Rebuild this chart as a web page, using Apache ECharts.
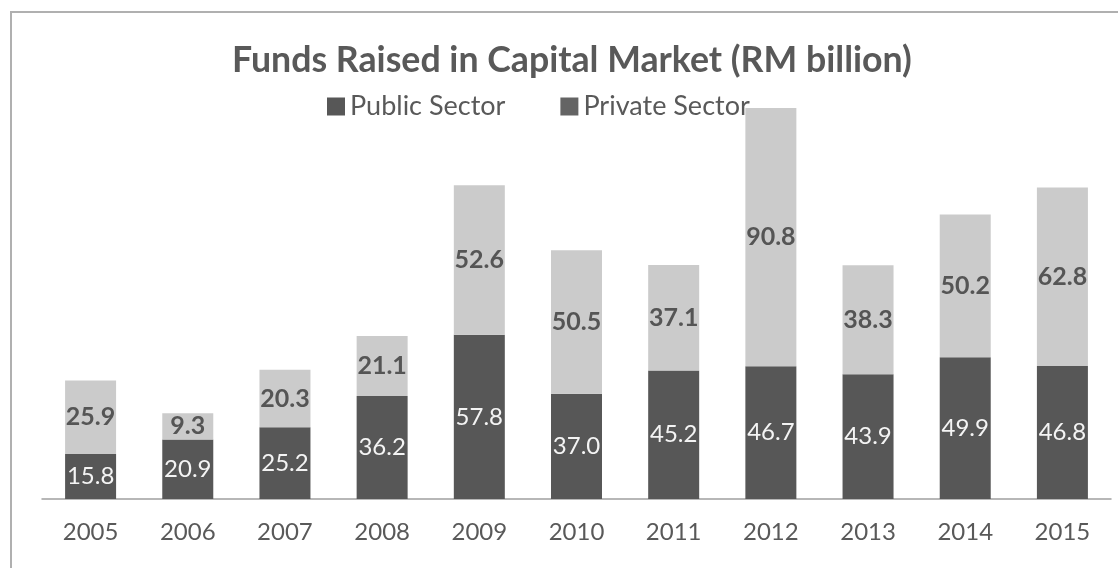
<!DOCTYPE html>
<html>
<head>
<meta charset="utf-8">
<script src="https://cdn.jsdelivr.net/npm/echarts@6/dist/echarts.min.js"></script>
<style>
  html, body { margin: 0; padding: 0; background: #fff; }
  #chart { width: 1118px; height: 568px; }
</style>
</head>
<body>
<div id="chart"></div>
<script>
// Funds raised in the capital market, RM billion
const years = ['2005', '2006', '2007', '2008', '2009', '2010', '2011', '2012', '2013', '2014', '2015'];
const publicSector = [15.8, 20.9, 25.2, 36.2, 57.8, 37.0, 45.2, 46.7, 43.9, 49.9, 46.8];
const privateSector = [25.9, 9.3, 20.3, 21.1, 52.6, 50.5, 37.1, 90.8, 38.3, 50.2, 62.8];

const textGrey = '#595959';
const font = 'Lato, "Open Sans", sans-serif';

const chart = echarts.init(document.getElementById('chart'), null, { renderer: 'canvas' });

chart.setOption({
  backgroundColor: '#ffffff',
  animation: false,
  title: {
    text: 'Funds Raised in Capital Market (RM billion)',
    left: 227,
    top: 37,
    textStyle: { fontFamily: font, fontSize: 35.7, fontWeight: 'bold', color: textGrey }
  },
  legend: {
    top: 88,
    left: 322,
    itemWidth: 18,
    itemHeight: 18,
    itemGap: 55,
    icon: 'rect',
    textStyle: { fontFamily: font, fontSize: 27, color: textGrey },
    data: [
      { name: 'Public Sector', itemStyle: { color: '#575757' } },
      { name: 'Private Sector', itemStyle: { color: '#646464' } }
    ]
  },
  grid: { left: 42, right: 7, top: 101, bottom: 69, containLabel: false },
  xAxis: {
    type: 'category',
    data: years,
    axisLine: { lineStyle: { color: '#a0a0a0', width: 1.5 } },
    axisTick: { show: false },
    axisLabel: { fontFamily: font, fontSize: 24, color: textGrey, margin: 21 }
  },
  yAxis: {
    type: 'value',
    min: 0,
    max: 140,
    show: false,
    splitLine: { show: false }
  },
  series: [
    {
      name: 'Public Sector',
      type: 'bar',
      stack: 'funds',
      barWidth: 51,
      data: publicSector,
      itemStyle: { color: '#575757' },
      label: {
        show: true,
        position: 'inside',
        fontFamily: font,
        fontSize: 24,
        color: '#f4f4f4',
        formatter: p => p.value.toFixed(1)
      }
    },
    {
      name: 'Private Sector',
      type: 'bar',
      stack: 'funds',
      barWidth: 51,
      data: privateSector,
      itemStyle: { color: '#cbcbcb' },
      label: {
        show: true,
        position: 'inside',
        fontFamily: font,
        fontSize: 25,
        fontWeight: 'bold',
        color: '#555555',
        formatter: p => p.value.toFixed(1)
      }
    }
  ],
  graphic: [
    // frame around the chart area (top and left edges)
    {
      type: 'polyline',
      shape: { points: [[11, 568], [11, 12], [1118, 12]] },
      style: { stroke: '#b0b0b0', lineWidth: 2, fill: null },
      silent: true
    }
  ]
});
</script>
</body>
</html>
